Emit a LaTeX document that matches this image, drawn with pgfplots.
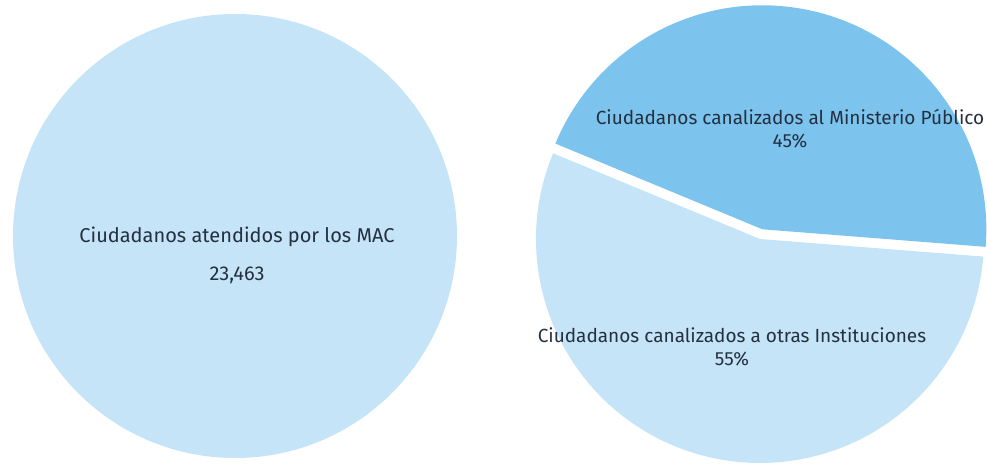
\documentclass[border=0pt]{standalone}
\usepackage{pgfplots}
\pgfplotsset{compat=1.18}
\usepackage{pgfplotstable}
\usepackage{fontspec}
\setmainfont{Fira Sans}
\definecolor{piedark}{HTML}{7CC4EE}
\definecolor{pielight}{HTML}{C5E4F7}
\definecolor{txt}{HTML}{243040}

% left chart: single total
\pgfplotstableread{
label value
Atendidos 23463
}\totaldata
% right chart: shares in percent
\pgfplotstableread{
label value
Ministerio 45
Otras 55
}\piedata

\begin{document}
\begin{tikzpicture}
\pgfplotstablegetelem{0}{value}\of\totaldata \let\vtot\pgfplotsretval
\pgfplotstablegetelem{0}{value}\of\piedata \let\va\pgfplotsretval
\pgfplotstablegetelem{1}{value}\of\piedata \let\vb\pgfplotsretval
\pgfmathsetmacro\startA{-4.5}
\pgfmathsetmacro\endA{\startA+3.6*\va}
\pgfmathsetmacro\endB{\endA+3.6*\vb}
\pgfmathsetmacro\midA{(\startA+\endA)/2}
\pgfmathsetmacro\cxA{760+10*cos(\midA)}
\pgfmathsetmacro\cyA{227+10*sin(\midA)}
\begin{axis}[
  x=1pt, y=1pt,
  xmin=0, xmax=987, ymin=0, ymax=466,
  hide axis, clip=true,
  /pgf/number format/assume math mode=true,
]
\path (rel axis cs:0,0) rectangle (rel axis cs:1,1);
% left pie: full circle
\fill[pielight] (axis cs:235,230) circle[radius=222pt];
% right pie: light slice
\fill[pielight] (axis cs:760,227) -- ++(\endA:224pt) arc[start angle=\endA, end angle=\endB, radius=224pt] -- cycle;
% right pie: exploded dark slice
\fill[piedark] (axis cs:\cxA,\cyA) -- ++(\startA:224pt) arc[start angle=\startA, end angle=\endA, radius=224pt] -- cycle;
% labels
\node[txt, font=\fontsize{20}{23}\selectfont] at (axis cs:237,229) {Ciudadanos atendidos por los MAC};
\node[txt, font=\fontsize{20}{23}\selectfont] at (axis cs:237,191) {\pgfmathprintnumber[fixed,assume math mode=true,1000 sep={,}]{\vtot}};
\node[txt, font=\fontsize{19}{22}\selectfont, align=center] at (axis cs:790,337.5) {Ciudadanos canalizados al Ministerio Público\\[1pt]\pgfmathprintnumber[assume math mode=true]{\va}\%};
\node[txt, font=\fontsize{19}{22}\selectfont, align=center] at (axis cs:732,119.5) {Ciudadanos canalizados a otras Instituciones\\[1pt]\pgfmathprintnumber[assume math mode=true]{\vb}\%};
\end{axis}
\end{tikzpicture}
\end{document}
